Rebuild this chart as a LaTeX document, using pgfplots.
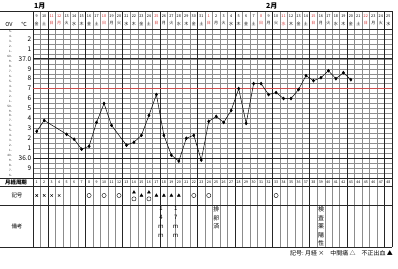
\documentclass[border=0pt]{standalone}
\usepackage{fontspec}
\setmainfont{Noto Sans CJK JP}
\usepackage{pgfplots}
\pgfplotsset{compat=1.18}
\definecolor{gridgray}{gray}{0.55}
\definecolor{darkline}{gray}{0.15}
\definecolor{redline}{RGB}{205,80,80}
\definecolor{sunred}{RGB}{210,40,40}
\begin{document}
\begin{tikzpicture}
\begin{scope}[x=1bp,y=-1bp,shift={(-33bp,178bp)}]
\path[use as bounding box] (0,0) rectangle (398,269);
% thin horizontal grid (every 0.05 C)
\foreach \i in {0,...,30} {
  \pgfmathsetmacro\Y{29+\i*4.96667}
  \draw[gridgray,line width=0.35bp] (33,\Y) -- (392,\Y);
}
% vertical lines
\foreach \k in {1,...,47} {
  \pgfmathsetmacro\X{33+\k*7.479167}
  \pgfmathtruncatemacro\m{mod(\k+3,5)}
  \ifnum\m=0
    \draw[darkline,line width=0.7bp] (\X,11) -- (\X,247);
  \else
    \draw[gridgray,line width=0.35bp] (\X,11) -- (\X,247);
  \fi
}
\draw[darkline,line width=0.7bp] (33,11) -- (33,247);
\draw[darkline,line width=0.7bp] (392,11) -- (392,247);
% table horizontal lines
\draw[darkline,line width=0.6bp] (0,11) -- (392,11);
\draw[darkline,line width=0.8bp] (0,29) -- (392,29);
\draw[darkline,line width=0.7bp] (33,58.8) -- (392,58.8);
\draw[darkline,line width=0.7bp] (33,158.13) -- (392,158.13);
\draw[darkline,line width=0.8bp] (0,178) -- (392,178);
\draw[darkline,line width=0.6bp] (0,186) -- (392,186);
\draw[darkline,line width=0.6bp] (0,205) -- (392,205);
\draw[darkline,line width=0.8bp] (0,247) -- (392,247);
% red reference line 36.7
\draw[redline,line width=0.5bp] (33,88.6) -- (392,88.6);
% month labels
\node[font=\fontsize{7}{8}\selectfont\bfseries,anchor=west,inner sep=0] at (34,6.5) {1月};
\node[font=\fontsize{7}{8}\selectfont\bfseries,anchor=west,inner sep=0] at (266,6.5) {2月};
% header labels
\node[font=\fontsize{5.5}{6}\selectfont,inner sep=0] at (9,24) {OV};
\node[font=\fontsize{5.5}{6}\selectfont,inner sep=0] at (24,24) {℃};
% dates and weekdays
\foreach \d/\w/\c [count=\k] in {9/金/black,10/土/black,11/日/sunred,12/月/sunred,13/火/black,14/水/black,15/木/black,16/金/black,17/土/black,18/日/sunred,19/月/black,20/火/black,21/水/black,22/木/black,23/金/black,24/土/black,25/日/sunred,26/月/black,27/火/black,28/水/black,29/木/black,30/金/black,31/土/black,1/日/sunred,2/月/black,3/火/black,4/水/black,5/木/black,6/金/black,7/土/black,8/日/sunred,9/月/black,10/火/black,11/水/sunred,12/木/black,13/金/black,14/土/black,15/日/sunred,16/月/black,17/火/black,18/水/black,19/木/black,20/金/black,21/土/black,22/日/sunred,23/月/black,24/火/black,25/水/black} {
  \pgfmathsetmacro\X{33+(\k-0.5)*7.479167}
  \node[font=\fontsize{3.8}{4}\selectfont,inner sep=0,text=\c] at (\X,16) {\d};
  \node[font=\fontsize{4}{4.5}\selectfont,inner sep=0,text=\c] at (\X,23.5) {\w};
  \node[font=\fontsize{3.6}{4}\selectfont,inner sep=0] at (\X,182) {\k};
}
% temperature labels
\foreach \lab [count=\i] in {2,1,37.0,9,8,7,6,5,4,3,2,1,36.0,9} {
  \pgfmathsetmacro\Y{29+\i*9.93333}
  \node[font=\fontsize{6.5}{7}\selectfont,anchor=east,inner sep=0] at (31.5,\Y) {\lab};
}
% OV tiny scale
\foreach \lab [count=\i] in {5,4,3,2,1,60,9,8,7,6,5,4,3,2,1,50,9,8,7,6,5,4,3,2,1,40,9,8,7,6} {
  \pgfmathsetmacro\Y{29+(\i-0.5)*4.96667}
  \node[font=\fontsize{3}{3.2}\selectfont,anchor=east,inner sep=0,text=darkline] at (12,\Y) {\lab-};
}
% row labels
\node[font=\fontsize{5.5}{6}\selectfont\bfseries,inner sep=0] at (16,182) {月経周期};
\node[font=\fontsize{5.5}{6}\selectfont,inner sep=0] at (17,195.5) {記号};
\node[font=\fontsize{5.5}{6}\selectfont,inner sep=0] at (17,226) {備考};
% remarks (vertical text)
\node[font=\fontsize{6}{9}\selectfont,align=center,anchor=north,inner sep=0] at (161,206) {1\\4\\m\\m};
\node[font=\fontsize{6}{9}\selectfont,align=center,anchor=north,inner sep=0] at (175.7,206) {1\\7\\m\\m};
\node[font=\fontsize{6}{8.5}\selectfont,align=center,anchor=north,inner sep=0] at (216.3,206.5) {排\\卵\\済};
\node[font=\fontsize{6}{8.5}\selectfont,align=center,anchor=north,inner sep=0] at (321,206.5) {検\\査\\薬\\陽\\性};
% legend text
\node[font=\fontsize{6}{7}\selectfont,anchor=east,inner sep=0] at (393,253) {記号:\ 月経 ×\quad 中間痛 △\quad 不正出血 ▲};
\end{scope}
\begin{axis}[at={(0,0)},anchor=south west,scale only axis,width=359bp,height=149bp,
  xmin=0,xmax=48,ymin=35.8,ymax=37.3,hide axis,clip=false]
\addplot[black,line width=0.5bp,mark=diamond*,mark size=1.5bp] coordinates {
(0.5,36.27) (1.5,36.38) (4.5,36.24) (5.5,36.19) (6.5,36.09) (7.5,36.12) (8.5,36.36) (9.5,36.55) (10.5,36.33)
(12.5,36.13) (13.5,36.16) (14.5,36.23) (15.5,36.43) (16.5,36.64) (17.5,36.23) (18.5,36.03) (19.5,35.97)
(20.5,36.20) (21.5,36.23) (22.5,35.98) (23.5,36.37) (24.5,36.42) (25.5,36.36) (26.5,36.48) (27.5,36.70)
(28.5,36.35) (29.5,36.75) (30.5,36.75) (31.5,36.64) (32.5,36.66) (33.5,36.60) (34.5,36.60) (35.5,36.69)
(36.5,36.83) (37.5,36.78) (38.5,36.81) (39.5,36.88) (40.5,36.80) (41.5,36.86) (42.5,36.79)};
\addplot[only marks,black,mark=x,mark size=1.8bp,line width=0.4bp] coordinates {
(0.5,35.624) (1.5,35.624) (2.5,35.624) (3.5,35.624)};
\addplot[only marks,black,mark=o,mark size=2.1bp,line width=0.4bp] coordinates {
(7.5,35.624) (9.5,35.624) (11.5,35.624) (13.5,35.590) (15.5,35.590) (21.5,35.624) (23.5,35.624) (32.5,35.624)};
\addplot[only marks,black,mark=triangle*,mark size=1.7bp] coordinates {
(13.5,35.656) (14.5,35.624) (15.5,35.656) (16.5,35.624) (17.5,35.624) (18.5,35.624) (19.5,35.624)};
\end{axis}
\end{tikzpicture}
\end{document}
